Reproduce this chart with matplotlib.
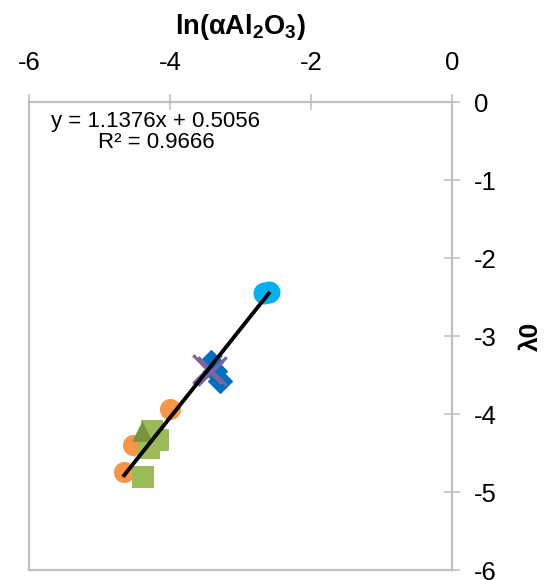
import numpy as np
import matplotlib.pyplot as plt

plt.rcParams['font.family'] = ['Liberation Sans', 'DejaVu Sans']
plt.rcParams['mathtext.fontset'] = 'custom'
plt.rcParams['mathtext.rm'] = 'Liberation Sans'
plt.rcParams['mathtext.bf'] = 'Liberation Sans:bold'
plt.rcParams['axes.unicode_minus'] = False

# measured series: ln(a Al2O3) vs lambda0
circ_blue_x = [-2.66, -2.60]
circ_blue_y = [-2.45, -2.43]
circ_orange_x = [-4.65, -4.52, -4.00]
circ_orange_y = [-4.74, -4.40, -3.94]
square_x = [-4.38, -4.25, -4.17, -4.30]
square_y = [-4.81, -4.21, -4.33, -4.43]
tri_x = [-4.40]
tri_y = [-4.21]
diam_x = [-3.42, -3.36, -3.29]
diam_y = [-3.33, -3.45, -3.57]
cross_x = [-3.48, -3.40]
cross_y = [-3.42, -3.45]

slope = 1.1376
intercept = 0.5056
r2 = 0.9666

fig = plt.figure(figsize=(5.46, 5.80), dpi=100)
ax = fig.add_axes([0.053, 0.017, 0.775, 0.807])

ax.scatter(circ_orange_x, circ_orange_y, s=230, marker='o', color='#f79646', lw=0, zorder=3)
ax.scatter(square_x, square_y, s=230, marker='s', color='#9bbb59', lw=0, zorder=3)
ax.scatter(tri_x, tri_y, s=220, marker='^', color='#77933c', lw=0, zorder=3)
ax.scatter(diam_x, diam_y, s=170, marker='D', color='#0070c0', lw=0, zorder=3)
ax.scatter(cross_x, cross_y, s=420, marker='x', color='#8064a2', lw=2.3, zorder=4)
ax.scatter(circ_blue_x, circ_blue_y, s=250, marker='o', color='#00b0f0', lw=0, zorder=3)

# linear trendline over the data range
all_x = np.concatenate([circ_blue_x, circ_orange_x, square_x, tri_x, diam_x, cross_x])
xs = np.array([all_x.min(), all_x.max()])
ax.plot(xs, slope * xs + intercept, color='black', lw=2.8, zorder=5)

ax.text(0.30, 0.982, f'y = {slope}x + {intercept}\nR² = {r2}', transform=ax.transAxes,
        ha='center', va='top', fontsize=16, linespacing=1.05)

ax.set_xlim(-6, 0)
ax.set_ylim(-6, 0)
ax.set_xticks([-6, -4, -2, 0])
ax.set_yticks(range(-6, 1))

ax.xaxis.tick_top()
ax.xaxis.set_label_position('top')
ax.yaxis.tick_right()
ax.yaxis.set_label_position('right')

for s in ax.spines.values():
    s.set_color('#c0c0c0')
    s.set_linewidth(1.6)

ax.tick_params(axis='both', direction='inout', length=11, width=1.2, color='#c0c0c0',
               labelsize=18.5, labelcolor='black')
ax.tick_params(axis='x', pad=14)
ax.tick_params(axis='y', pad=10)

ax.set_xlabel(r'$\mathbf{ln(αAl_2O_3)}$', fontsize=19.5, labelpad=12)
ax.set_ylabel('λ0', fontsize=19, fontweight='bold', rotation=90, labelpad=16)

fig.savefig('out.png', dpi=100)
